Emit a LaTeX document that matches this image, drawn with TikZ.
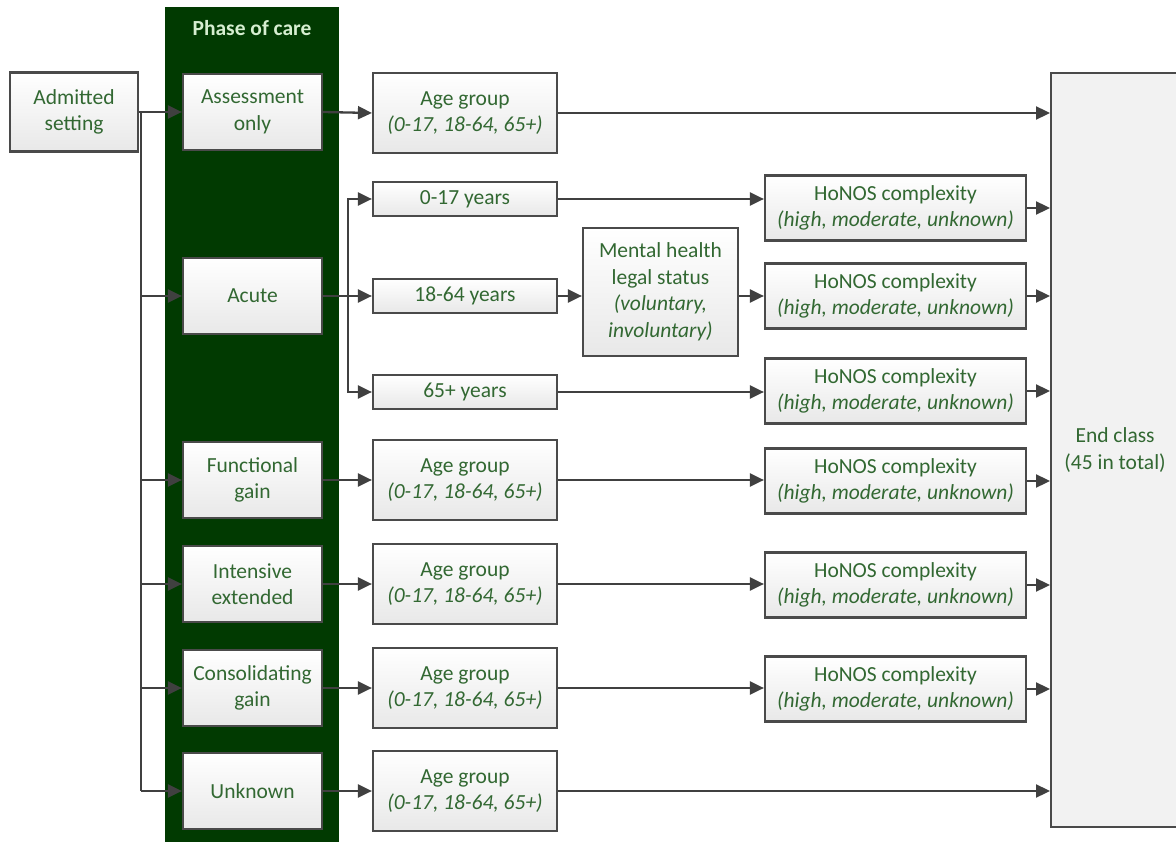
\documentclass[tikz,border=0pt]{standalone}
\usepackage{fontspec}
\setmainfont{Carlito}
\usetikzlibrary{arrows.meta,calc}
\definecolor{txt}{RGB}{50,104,50}
\definecolor{dkg}{RGB}{1,58,1}
\definecolor{lgt}{RGB}{214,238,208}
\definecolor{bd}{RGB}{74,74,74}
\definecolor{lnc}{RGB}{64,64,64}
\begin{document}
\begin{tikzpicture}[x=1pt,y=-1pt,
  box/.style={draw=bd,line width=2.2pt,top color=white,bottom color=black!9,text=txt,align=center,
    font=\fontsize{21.5}{26.5}\selectfont,inner sep=0pt},
  phbox/.style={box,minimum width=139pt,minimum height=76pt},
  agebox/.style={box,minimum width=184pt,minimum height=80pt},
  yrbox/.style={box,minimum width=184pt,minimum height=34pt},
  hnbox/.style={box,minimum width=261pt,minimum height=65pt},
  arr/.style={draw=lnc,line width=2.3pt,-{Triangle[length=14pt,width=13pt]}},
  lin/.style={draw=lnc,line width=2.3pt}]
\useasboundingbox (0,0) rectangle (1176,842);
\fill[white] (0,0) rectangle (1176,842);
% phase column
\node[fill=dkg,minimum width=174pt,minimum height=840pt,anchor=north west,inner sep=0pt] (col) at (165,7) {};
\node[text=lgt,font=\fontsize{21.5}{26.5}\selectfont\bfseries] (title) at (252,28) {Phase of care};
% left
\node[box,minimum width=128pt,minimum height=79pt] (adm) at (74,112) {Admitted\\setting};
% phases
\node[phbox] (ass) at (252.5,112) {Assessment\\only};
\node[phbox] (acu) at (252.5,296) {Acute};
\node[phbox] (fun) at (252.5,480) {Functional\\gain};
\node[phbox] (int) at (252.5,584) {Intensive\\extended};
\node[phbox] (con) at (252.5,688) {Consolidating\\gain};
\node[phbox] (unk) at (252.5,791) {Unknown};
% age groups
\node[agebox] (a1) at (465,113) {Age group\\\textit{(0-17, 18-64, 65+)}};
\node[yrbox] (y017) at (465,199) {0-17 years};
\node[yrbox] (y1864) at (465,296) {18-64 years};
\node[yrbox] (y65) at (465,392) {65+ years};
\node[agebox] (a3) at (465,480) {Age group\\\textit{(0-17, 18-64, 65+)}};
\node[agebox] (a4) at (465,584) {Age group\\\textit{(0-17, 18-64, 65+)}};
\node[agebox] (a5) at (465,688) {Age group\\\textit{(0-17, 18-64, 65+)}};
\node[agebox] (a6) at (465,791) {Age group\\\textit{(0-17, 18-64, 65+)}};
% mental health
\node[box,minimum width=155pt,minimum height=128pt] (mh) at (660.5,292) {Mental health\\legal status\\\textit{(voluntary,}\\\textit{involuntary)}};
% HoNOS
\node[hnbox] (h1) at (895.5,208) {HoNOS complexity\\\textit{(high, moderate, unknown)}};
\node[hnbox] (h2) at (895.5,296) {HoNOS complexity\\\textit{(high, moderate, unknown)}};
\node[hnbox] (h3) at (895.5,391) {HoNOS complexity\\\textit{(high, moderate, unknown)}};
\node[hnbox] (h4) at (895.5,481) {HoNOS complexity\\\textit{(high, moderate, unknown)}};
\node[hnbox] (h5) at (895.5,585) {HoNOS complexity\\\textit{(high, moderate, unknown)}};
\node[hnbox] (h6) at (895.5,689) {HoNOS complexity\\\textit{(high, moderate, unknown)}};
% end class
\node[draw=bd,line width=2.2pt,fill=black!5,text=txt,align=center,font=\fontsize{21.5}{26.5}\selectfont,
  minimum width=128pt,minimum height=754pt,anchor=north west,inner sep=0pt] (endc) at (1050,72) {End class\\(45 in total)};
% connectors: admitted -> phases
\coordinate (tk) at ($(adm.east)+(2,0)$);
\draw[arr] (adm.east) -- (ass.west);
\draw[lin] (tk) -- (tk |- unk.west);
\draw[arr] (tk |- acu.west) -- (acu.west);
\draw[arr] (tk |- fun.west) -- (fun.west);
\draw[arr] (tk |- int.west) -- (int.west);
\draw[arr] (tk |- con.west) -- (con.west);
\draw[arr] (tk |- unk.west) -- (unk.west);
% phases -> age
\draw[arr] (ass.east) -- (a1.west);
\coordinate (ak) at ($(acu.east)+(25,0)$);
\draw[arr] (acu.east) -- (y1864.west);
\draw[arr] (ak) |- (y017.west);
\draw[arr] (ak) |- (y65.west);
\draw[arr] (fun.east) -- (a3.west);
\draw[arr] (int.east) -- (a4.west);
\draw[arr] (con.east) -- (a5.west);
\draw[arr] (unk.east) -- (a6.west);
% age -> HoNOS / MH
\draw[arr] (y017.east) -- (y017.east -| h1.west);
\draw[arr] (y1864.east) -- (y1864.east -| mh.west);
\draw[arr] (mh.east |- h2.west) -- (h2.west);
\draw[arr] (y65.east) -- (y65.east -| h3.west);
\draw[arr] (a3.east) -- (a3.east -| h4.west);
\draw[arr] (a4.east) -- (a4.east -| h5.west);
\draw[arr] (a5.east) -- (a5.east -| h6.west);
% -> end class
\draw[arr] (a1.east) -- (a1.east -| endc.west);
\draw[arr] (h1.east) -- (h1.east -| endc.west);
\draw[arr] (h2.east) -- (h2.east -| endc.west);
\draw[arr] (h3.east) -- (h3.east -| endc.west);
\draw[arr] (h4.east) -- (h4.east -| endc.west);
\draw[arr] (h5.east) -- (h5.east -| endc.west);
\draw[arr] (h6.east) -- (h6.east -| endc.west);
\draw[arr] (a6.east) -- (a6.east -| endc.west);
\end{tikzpicture}
\end{document}
